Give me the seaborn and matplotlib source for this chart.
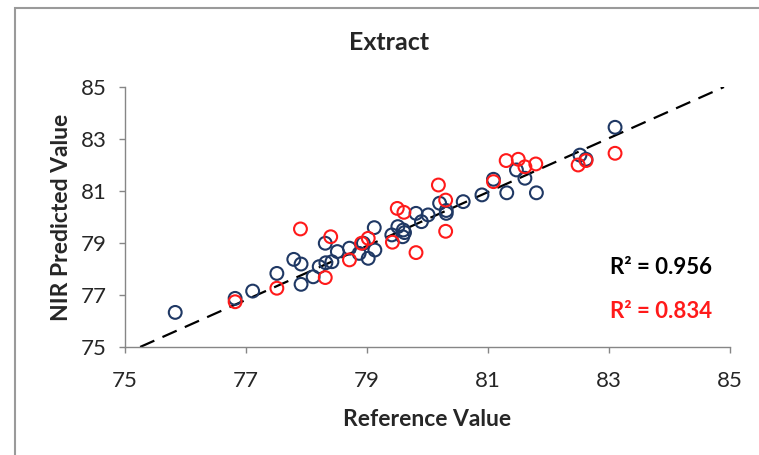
import matplotlib
matplotlib.use("Agg")
import matplotlib.pyplot as plt
import seaborn as sns
import pandas as pd
from matplotlib.patches import Rectangle

# calibration samples (blue) and validation samples (red)
cal_ref = [75.83, 76.82, 77.11, 77.51, 77.79, 77.91, 77.91, 78.11, 78.21, 78.31,
           78.32, 78.42, 78.51, 78.71, 78.87, 78.94, 79.02, 79.13, 79.12, 79.41,
           79.51, 79.60, 79.59, 79.62, 79.81, 79.90, 80.01, 80.20, 80.31, 80.31,
           80.59, 80.90, 81.09, 81.31, 81.47, 81.61, 81.80, 82.52, 82.62, 83.10]
cal_nir = [76.33, 76.87, 77.15, 77.83, 78.37, 78.19, 77.41, 77.70, 78.09, 78.99,
           78.24, 78.28, 78.67, 78.80, 78.60, 78.99, 78.41, 78.73, 79.59, 79.31,
           79.63, 79.50, 79.24, 79.40, 80.14, 79.82, 80.08, 80.53, 80.14, 80.25,
           80.59, 80.85, 81.45, 80.93, 81.81, 81.49, 80.93, 82.38, 82.22, 83.45]

val_ref = [76.82, 77.51, 77.90, 78.31, 78.40, 78.71, 78.91, 79.02, 79.42, 79.50,
           79.61, 79.81, 80.18, 80.30, 80.30, 81.09, 81.30, 81.50, 81.61, 81.79,
           82.49, 82.62, 83.10]
val_nir = [76.74, 77.26, 79.54, 77.67, 79.24, 78.35, 78.99, 79.18, 79.03, 80.33,
           80.18, 78.63, 81.23, 80.65, 79.45, 81.36, 82.17, 82.22, 81.93, 82.04,
           82.00, 82.17, 82.45]

line_x = [75.25, 84.9]
line_y = [75.0, 85.0]

ticks = [75, 77, 79, 81, 83, 85]
r2_cal = "R² = 0.956"
r2_val = "R² = 0.834"

sns.set_style("white")
plt.rcParams['font.family'] = ['Lato', 'DejaVu Sans']

fig = plt.figure(figsize=(7.59, 4.55), dpi=100)
ax = fig.add_axes([0.1647, 0.2374, 0.7971, 0.5714])

# outer chart frame
fig.patches.append(Rectangle((15 / 759, -0.1), 1.1, 1 - 8 / 455 + 0.1,
                             transform=fig.transFigure, fill=False,
                             edgecolor='#9a9a9a', linewidth=1.5))

cal = pd.DataFrame({'ref': cal_ref, 'nir': cal_nir})
val = pd.DataFrame({'ref': val_ref, 'nir': val_nir})

ax.plot(line_x, line_y, color='black', linestyle=(0, (7, 4)), linewidth=1.6, zorder=1)
sns.scatterplot(data=cal, x='ref', y='nir', ax=ax, marker='o', s=85,
                facecolor='none', edgecolor='#1f3864', linewidth=1.5, zorder=2)
sns.scatterplot(data=val, x='ref', y='nir', ax=ax, marker='o', s=85,
                facecolor='none', edgecolor='#ff1a1a', linewidth=1.5, zorder=3)

ax.set_xlim(75, 85)
ax.set_ylim(75, 85)
ax.set_xticks(ticks)
ax.set_yticks(ticks)
ax.tick_params(axis='both', labelsize=16, length=4.5, width=1, color='#868686',
               direction='out', bottom=True, left=True)
ax.tick_params(axis='x', pad=13)
ax.tick_params(axis='y', pad=9)
for side in ['top', 'right']:
    ax.spines[side].set_visible(False)
for side in ['left', 'bottom']:
    ax.spines[side].set_color('#868686')
    ax.spines[side].set_linewidth(1)

fig.text(389 / 759, 1 - 43 / 455, 'Extract', ha='center', va='center',
         fontsize=18, fontweight='bold')
ax.set_xlabel('Reference Value', fontsize=16.5, fontweight='bold', labelpad=13)
ax.set_ylabel('NIR Predicted Value', fontsize=16.5, fontweight='bold', labelpad=6)

ax.text(0.97, 0.304, r2_cal, transform=ax.transAxes, ha='right', va='center',
        fontsize=16, fontweight='bold', color='black')
ax.text(0.97, 0.138, r2_val, transform=ax.transAxes, ha='right', va='center',
        fontsize=16, fontweight='bold', color='#ff1a1a')

fig.savefig('out.png', dpi=100)
